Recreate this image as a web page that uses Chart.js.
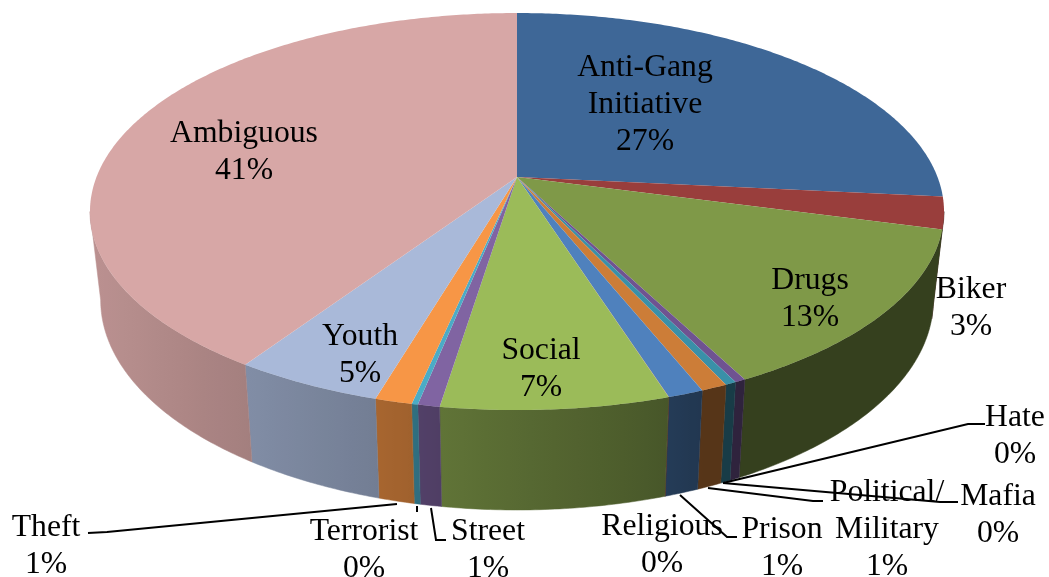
<!DOCTYPE html>
<html>
<head>
<meta charset="utf-8">
<style>
  html, body { margin: 0; padding: 0; background: #fff; }
  canvas { display: block; }
</style>
<script src="https://cdn.jsdelivr.net/npm/chart.js@4"></script>
</head>
<body>
<canvas id="gangPie" width="1049" height="577"></canvas>
<script>
// Share of each category, clockwise from twelve o'clock
const categories = [
  'Anti-Gang\nInitiative', 'Biker', 'Drugs', 'Hate', 'Mafia', 'Political/\nMilitary',
  'Prison', 'Religious', 'Social', 'Street', 'Terrorist', 'Theft', 'Youth', 'Ambiguous'
];
const shares = [26.6, 2.6, 13.25, 0.35, 0.35, 0.85, 1.15, 0.01, 7.3, 0.7, 0.2, 1.19, 4.8, 40.7];
const sliceColors = [
  '#3e6797', '#993e3c', '#7f9948', '#6f5391', '#3a90a8', '#cc7d38', '#4f81bd',
  '#c0504d', '#9bbb59', '#8064a2', '#4bacc6', '#f79646', '#a9b9d9', '#d7a7a6'
];

// Centre of each label's first line
const labelAnchors = [
  [645, 68], [971, 290], [810, 281], [1015, 418], [998, 497], [887, 493], [782, 530],
  [662, 527], [541, 351], [488, 532], [364, 532], [46, 528], [360, 337], [244, 134]
];
const lineHeight = 36.7;

// Leader lines running from the outer labels to their slices
const leaderLines = [
  [[985, 424], [968, 424], [723, 483]],
  [[958, 502], [940, 502], [723, 483]],
  [[823, 501], [813, 501], [708, 488]],
  [[737, 537], [727, 537], [680, 495]],
  [[446, 540], [436, 540], [431, 508]],
  [[417, 506], [417, 512]],
  [[88, 533], [107, 532], [397, 504]]
];

// Perspective model of the disc: upper face and lower face of the cylinder
const topFace = { cx: 517, cy: 177, a: 420.5, b: 192.5, k: 0.174 };
const bottomFace = { cx: 517, cy: 263.5, a: 410, b: 203.6, k: 0.174 };

function project(face, theta) {
  const w = 1 + face.k * Math.cos(theta);
  return [face.cx + face.a * Math.sin(theta) / w, face.cy - face.b * Math.cos(theta) / w];
}

// Angles where the disc's outline turns from the far side to the near side
const nearFrom = Math.acos(-topFace.k);
const nearTo = 2 * Math.PI - nearFrom;

// Side-wall brightness as a function of screen x
const wallLight = [[90, 0.87], [250, 0.76], [375, 0.68], [440, 0.62], [660, 0.47], [705, 0.42], [950, 0.42]];
function lightAt(x) {
  for (let i = 1; i < wallLight.length; i++) {
    const [x0, l0] = wallLight[i - 1], [x1, l1] = wallLight[i];
    if (x <= x1) return l0 + (l1 - l0) * Math.max(0, x - x0) / (x1 - x0);
  }
  return wallLight[wallLight.length - 1][1];
}
function shade(hex, f) {
  const n = parseInt(hex.slice(1), 16);
  return `rgb(${Math.round((n >> 16) * f)},${Math.round(((n >> 8) & 255) * f)},${Math.round((n & 255) * f)})`;
}

function arcSteps(a0, a1) {
  const n = Math.max(2, Math.ceil((a1 - a0) / 0.01));
  return Array.from({ length: n + 1 }, (_, i) => a0 + (a1 - a0) * i / n);
}

// Paints the slices as an extruded disc, using the angles Chart.js computed
const extrudedPie = {
  id: 'extrudedPie',
  beforeDatasetDraw(chart) {
    const { ctx } = chart;
    const arcs = chart.getDatasetMeta(0).data;
    const spans = arcs.map((arc, i) => ({
      from: arc.startAngle + Math.PI / 2,
      to: arc.endAngle + Math.PI / 2,
      color: sliceColors[i]
    }));

    // Walls first, near side only: the upper face covers the far side
    ctx.save();
    for (const s of spans) {
      const from = Math.max(s.from, nearFrom), to = Math.min(s.to, nearTo);
      if (to <= from) continue;
      const steps = arcSteps(from, to);
      const upper = steps.map(t => project(topFace, t));
      const lower = steps.map(t => project(bottomFace, t)).reverse();
      const pts = upper.concat(lower);
      const xs = pts.map(p => p[0]);
      const x0 = Math.min(...xs), x1 = Math.max(...xs) + 0.01;
      const grad = ctx.createLinearGradient(x0, 0, x1, 0);
      for (let i = 0; i <= 10; i++) {
        grad.addColorStop(i / 10, shade(s.color, lightAt(x0 + (x1 - x0) * i / 10)));
      }
      ctx.beginPath();
      pts.forEach((p, i) => (i ? ctx.lineTo(p[0], p[1]) : ctx.moveTo(p[0], p[1])));
      ctx.closePath();
      ctx.fillStyle = grad;
      ctx.strokeStyle = grad;
      ctx.lineWidth = 0.5;
      ctx.fill();
      ctx.stroke();
    }

    // Upper face
    for (const s of spans) {
      ctx.beginPath();
      ctx.moveTo(topFace.cx, topFace.cy);
      for (const t of arcSteps(s.from, s.to)) {
        const p = project(topFace, t);
        ctx.lineTo(p[0], p[1]);
      }
      ctx.closePath();
      ctx.fillStyle = s.color;
      ctx.fill();
    }
    ctx.restore();
    return false;
  },
  afterDatasetsDraw(chart) {
    const { ctx } = chart;
    ctx.save();
    ctx.strokeStyle = '#000';
    ctx.lineWidth = 2;
    for (const line of leaderLines) {
      ctx.beginPath();
      line.forEach((p, i) => (i ? ctx.lineTo(p[0], p[1]) : ctx.moveTo(p[0], p[1])));
      ctx.stroke();
    }
    ctx.fillStyle = '#000';
    ctx.font = '31.7px "Liberation Serif"';
    ctx.textAlign = 'center';
    ctx.textBaseline = 'middle';
    const total = shares.reduce((a, b) => a + b, 0);
    categories.forEach((name, i) => {
      const lines = name.split('\n').concat(Math.round(shares[i] / total * 100) + '%');
      lines.forEach((text, j) => ctx.fillText(text, labelAnchors[i][0], labelAnchors[i][1] + j * lineHeight));
    });
    ctx.restore();
  }
};

new Chart(document.getElementById('gangPie'), {
  type: 'pie',
  data: {
    labels: categories,
    datasets: [{ data: shares, backgroundColor: sliceColors, borderWidth: 0 }]
  },
  options: {
    responsive: false,
    animation: false,
    plugins: { legend: { display: false }, tooltip: { enabled: false } }
  },
  plugins: [extrudedPie]
});
</script>
</body>
</html>
